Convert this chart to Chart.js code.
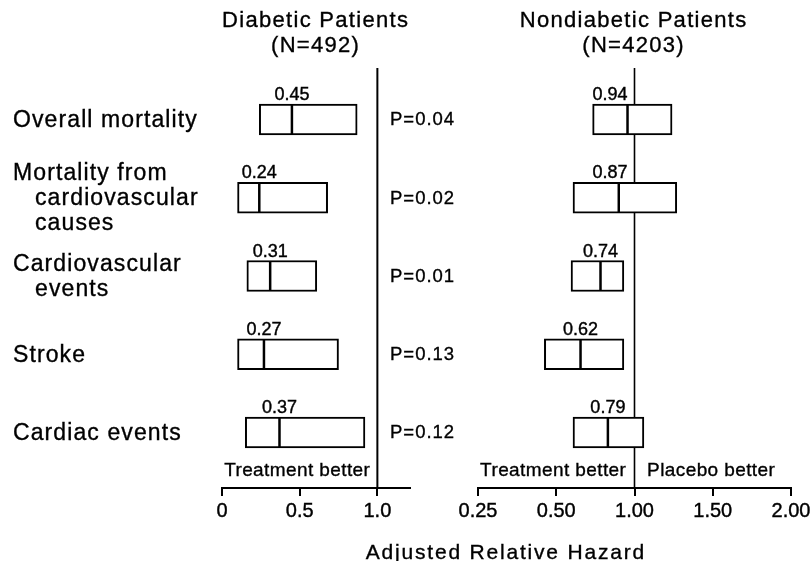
<!DOCTYPE html>
<html>
<head>
<meta charset="utf-8">
<title>Adjusted Relative Hazard</title>
<script src="https://cdn.jsdelivr.net/npm/chart.js@4.4.1/dist/chart.umd.min.js"></script>
<style>
  html, body { margin: 0; padding: 0; background: #fff; overflow: hidden; }
  #wrap { position: relative; width: 811px; height: 561px; overflow: hidden;
          font-family: "Liberation Sans", Arial, Helvetica, sans-serif; color: #000; }
  canvas { position: absolute; top: 0; }
  .t { position: absolute; white-space: nowrap; line-height: 1; -webkit-text-stroke: 0.35px #000; }
</style>
</head>
<body>
<div id="wrap">
  <canvas id="leftChart" width="440" height="561" style="left:0"></canvas>
  <canvas id="rightChart" width="380" height="561" style="left:440px"></canvas>
</div>
<script>
// categories (one entry per row, split into the printed lines)
const categories = [
  ["Overall mortality"],
  ["Mortality from", "cardiovascular", "causes"],
  ["Cardiovascular", "events"],
  ["Stroke"],
  ["Cardiac events"]
];
const pValues = ["P=0.04", "P=0.02", "P=0.01", "P=0.13", "P=0.12"];

// diabetic patients (N=492)
const diabeticHR = [0.45, 0.24, 0.31, 0.27, 0.37];
const diabeticLow = [0.24, 0.10, 0.16, 0.10, 0.15];
const diabeticHigh = [0.87, 0.68, 0.61, 0.75, 0.92];

// nondiabetic patients (N=4203)
const nondiabeticHR = [0.94, 0.87, 0.74, 0.62, 0.79];
const nondiabeticLow = [0.69, 0.58, 0.57, 0.45, 0.58];
const nondiabeticHigh = [1.24, 1.27, 0.91, 0.91, 1.06];

const leftTicks = [0, 0.5, 1.0];
const leftTickLabels = ["0", "0.5", "1.0"];
const rightTicks = [0.25, 0.5, 1.0, 1.5, 2.0];
const rightTickLabels = ["0.25", "0.50", "1.00", "1.50", "2.00"];

const FONT = '"Liberation Sans", Arial, Helvetica, sans-serif';

// right axis: halving steps below 1, half-unit steps above 1, all the same width
const hazardPos = v => v <= 1 ? 2 + Math.log2(v) : 2 + (v - 1) * 2;
const same = v => v;

const refLine = {
  id: "refLine",
  beforeDatasetsDraw(chart, args, o) {
    const ctx = chart.ctx;
    const x = chart.scales.x.getPixelForValue(o.value);
    ctx.save();
    ctx.strokeStyle = "#000";
    ctx.lineWidth = o.width;
    ctx.beginPath();
    ctx.moveTo(x, chart.chartArea.top);
    ctx.lineTo(x, chart.chartArea.bottom);
    ctx.stroke();
    ctx.restore();
  }
};

const valueLabels = {
  id: "valueLabels",
  afterDatasetsDraw(chart, args, o) {
    const ctx = chart.ctx;
    const refX = chart.scales.x.getPixelForValue(o.refValue);
    const meta = chart.getDatasetMeta(1);
    ctx.save();
    ctx.fillStyle = "#000";
    ctx.strokeStyle = "#000";
    ctx.lineWidth = 0.4;
    ctx.font = "18px " + FONT;
    ctx.textAlign = "center";
    ctx.textBaseline = "alphabetic";
    meta.data.forEach((pt, i) => {
      const txt = o.values[i].toFixed(2);
      const w = ctx.measureText(txt).width;
      let x = pt.x;
      // keep the number clear of the reference line
      if (pt.x < refX && x + w / 2 > refX - 7) x = refX - 7 - w / 2;
      ctx.fillText(txt, x, pt.y - 19.5);
      ctx.strokeText(txt, x, pt.y - 19.5);
    });
    ctx.restore();
  }
};

const rows = categories.map((_, i) => i);

function forestChart(id, cfg) {
  return new Chart(document.getElementById(id), {
    type: "bar",
    data: {
      datasets: [
        {
          type: "bar",
          order: 1,
          data: rows.map(i => ({ x: [cfg.map(cfg.low[i]), cfg.map(cfg.high[i])], y: i })),
          backgroundColor: "#fff",
          borderColor: "#000",
          borderWidth: 2,
          borderSkipped: false,
          barThickness: 31
        },
        {
          type: "scatter",
          order: 0,
          data: rows.map(i => ({ x: cfg.map(cfg.hr[i]), y: i })),
          pointStyle: "line",
          pointRotation: 90,
          pointRadius: 14.5,
          pointBorderColor: "#000",
          pointBorderWidth: 2.5
        }
      ]
    },
    options: {
      indexAxis: "y",
      responsive: false,
      animation: false,
      events: [],
      layout: { padding: cfg.padding },
      plugins: {
        legend: { display: false },
        tooltip: { enabled: false },
        refLine: { value: cfg.map(1), width: cfg.refWidth },
        valueLabels: { values: cfg.hr, refValue: cfg.map(1) }
      },
      scales: {
        x: {
          type: "linear",
          min: cfg.min,
          max: cfg.max,
          grid: { display: true, drawOnChartArea: false, drawTicks: true, tickLength: 8, lineWidth: 2, color: "#000" },
          border: { display: true, color: "#000", width: 2 },
          ticks: {
            color: "#000",
            font: { family: FONT, size: 20 },
            padding: 3,
            maxRotation: 0,
            autoSkip: false,
            textStrokeColor: "#000",
            textStrokeWidth: 0.4,
            callback: (v, i) => cfg.tickLabels[i]
          },
          afterBuildTicks: s => { s.ticks = cfg.ticks.map(v => ({ value: cfg.map(v) })); }
        },
        y: { type: "linear", display: false, offset: false, reverse: true, min: -0.658, max: 4.709 }
      }
    },
    plugins: [refLine, valueLabels]
  });
}

const left = forestChart("leftChart", {
  hr: diabeticHR, low: diabeticLow, high: diabeticHigh, map: same,
  min: 0, max: 1.21, ticks: leftTicks, tickLabels: leftTickLabels,
  padding: { left: 222, right: 30, top: 68, bottom: 35 }, refWidth: 2
});

const right = forestChart("rightChart", {
  hr: nondiabeticHR, low: nondiabeticLow, high: nondiabeticHigh, map: hazardPos,
  min: 0, max: 4, ticks: rightTicks, tickLabels: rightTickLabels,
  padding: { left: 38, right: 29, top: 68, bottom: 35 }, refWidth: 1.6
});

// text
const wrap = document.getElementById("wrap");
function addText(text, x, baseline, size, ls, align) {
  const el = document.createElement("div");
  el.className = "t";
  el.textContent = text;
  el.style.fontSize = size + "px";
  el.style.letterSpacing = ls + "px";
  el.style.top = (baseline - 0.8465 * size) + "px";
  if (align === "center") {
    el.style.left = (x - 300 + ls / 2) + "px";
    el.style.width = "600px";
    el.style.textAlign = "center";
  } else {
    el.style.left = x + "px";
  }
  wrap.appendChild(el);
}

addText("Diabetic Patients", 315, 28, 22, 1.3, "center");
addText("(N=492)", 315, 53, 22, 1.3, "center");
addText("Nondiabetic Patients", 633, 28, 22, 1.3, "center");
addText("(N=4203)", 633, 53, 22, 1.3, "center");

rows.forEach(i => {
  const yc = left.scales.y.getPixelForValue(i);
  const lines = categories[i];
  const first = yc + 8 - (lines.length - 1) * 25 / 2;
  lines.forEach((line, k) => addText(line, k === 0 ? 13 : 35, first + k * 25, 23, 1.1));
  addText(pValues[i], 390, yc + 6.6, 18.5, 1);
});

addText("Treatment better", 297, 476, 19, 0.4, "center");
addText("Treatment better", 553, 476, 19, 0.4, "center");
addText("Placebo better", 711, 476, 19, 0.4, "center");
addText("Adjusted Relative Hazard", 505, 559, 21, 1.8, "center");
</script>
</body>
</html>
